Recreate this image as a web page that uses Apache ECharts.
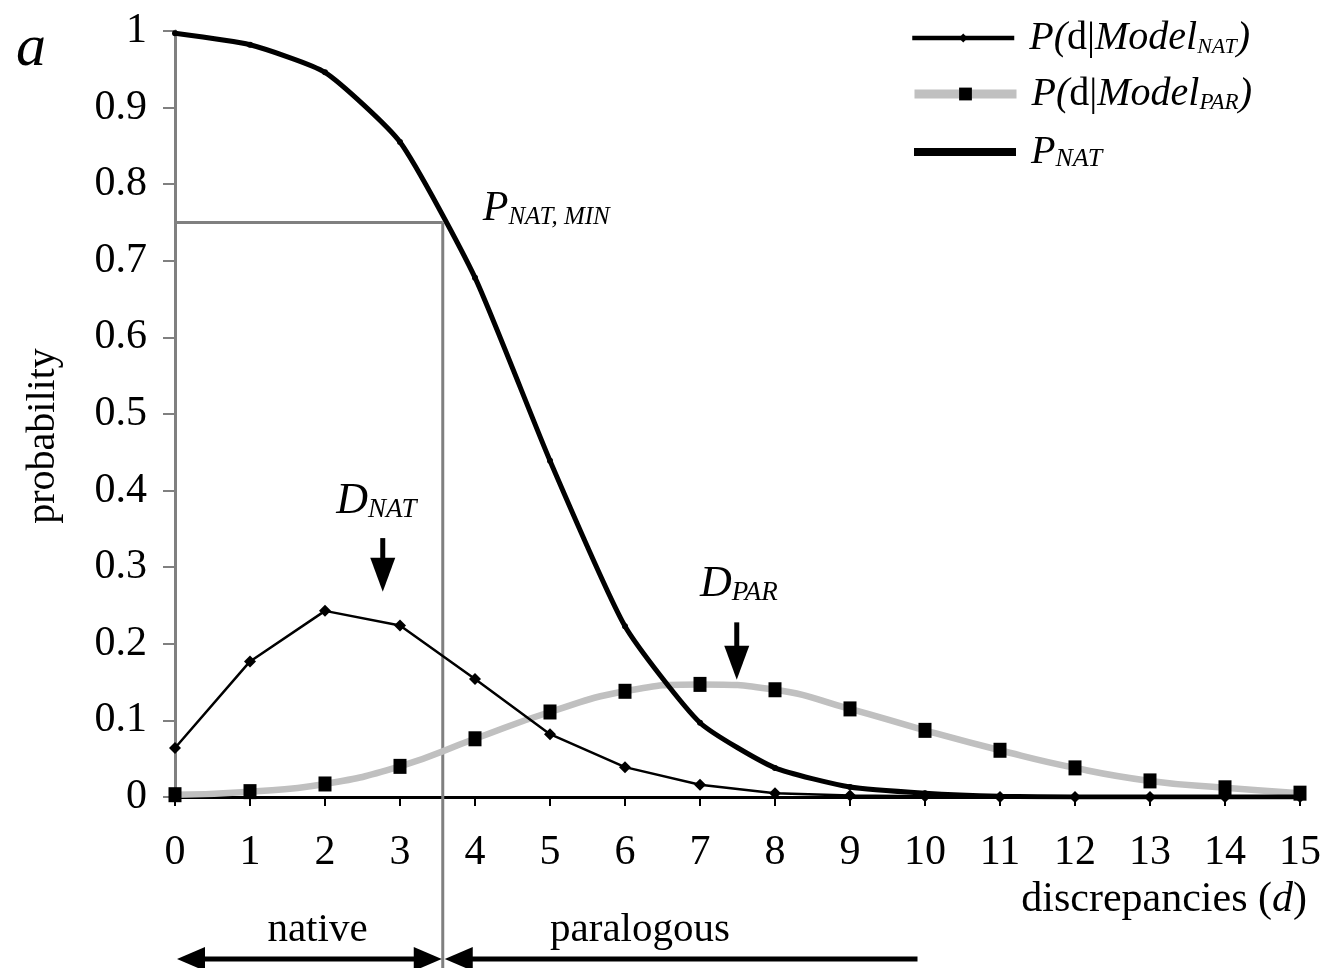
<!DOCTYPE html>
<html><head><meta charset="utf-8">
<script src="https://cdn.jsdelivr.net/npm/echarts@6/dist/echarts.min.js"></script>
<style>html,body{margin:0;padding:0;background:#fff}#c{width:1324px;height:968px}</style>
</head><body><div id="c"></div>
<script>
// ---- data ----
const discrepancies = [0,1,2,3,4,5,6,7,8,9,10,11,12,13,14,15];
const pModelNat = [0.064,0.177,0.243,0.224,0.154,0.082,0.039,0.016,0.005,0.002,0.001,0,0,0,0,0];
const pModelPar = [0.003,0.007,0.017,0.040,0.076,0.111,0.138,0.147,0.140,0.115,0.087,0.061,0.038,0.021,0.012,0.005];
const pNat      = [0.997,0.982,0.946,0.855,0.678,0.439,0.223,0.097,0.038,0.013,0.005,0.001,0,0,0,0];
const threshold = 3.57;   // d at which P_NAT = P_NAT,MIN
const pNatMin = 0.75;
const dNatMark = 2.77;
const dParMark = 7.49;

const SERIF = '"Liberation Serif","DejaVu Serif",serif';
const chart = echarts.init(document.getElementById('c'));

function rich(Fm, Fs, drop, padLeft) {
  const lh = 2 * (0.18 * Fm + 0.32 * Fs - drop);
  return {
    m: {fontFamily: SERIF, fontStyle: 'italic', fontSize: Fm, lineHeight: Fm, color: '#000', padding: [0, 0, 0, padLeft || 0]},
    i: {fontFamily: SERIF, fontStyle: 'italic', fontSize: Fm, lineHeight: Fm, color: '#000'},
    r: {fontFamily: SERIF, fontSize: Fm, lineHeight: Fm, color: '#000'},
    s: {fontFamily: SERIF, fontStyle: 'italic', fontSize: Fs, lineHeight: lh, verticalAlign: 'bottom', color: '#000'}
  };
}

const pairs = arr => discrepancies.map((d, i) => [d, arr[i]]);

const legendBase = {left: 910, padding: 0, itemWidth: 102, selectedMode: false, orient: 'horizontal'};

chart.setOption({
  animation: false,
  backgroundColor: '#fff',
  grid: {left: 175, right: 24, top: 31, bottom: 171, outerBoundsMode: 'none'},
  xAxis: {
    type: 'value', min: 0, max: 15, interval: 1,
    axisLine: {lineStyle: {color: '#000', width: 3}},
    axisTick: {length: 9, lineStyle: {color: '#000', width: 2}},
    axisLabel: {fontFamily: SERIF, fontSize: 42, color: '#000', margin: 35},
    splitLine: {show: false}
  },
  yAxis: {
    type: 'value', min: 0, max: 1, interval: 0.1,
    axisLine: {show: true, lineStyle: {color: '#808080', width: 3}},
    axisTick: {show: true, length: 12, lineStyle: {color: '#808080', width: 2}},
    axisLabel: {fontFamily: SERIF, fontSize: 42, color: '#000', margin: 28},
    splitLine: {show: false},
    name: 'probability', nameLocation: 'middle', nameGap: 112,
    nameTextStyle: {fontFamily: SERIF, fontSize: 40, color: '#000', padding: [0, 44, 0, 0]}
  },
  legend: [
    Object.assign({}, legendBase, {
      top: 18, itemHeight: 11, data: ['P(d|Model NAT)'],
      lineStyle: {width: 4.5},
      formatter: () => '{m|P(}{r|d|}{i|Model}{s|NAT}{i|)}',
      textStyle: {rich: rich(40, 22, 4, 10)}
    }),
    Object.assign({}, legendBase, {
      top: 74, itemHeight: 16, data: ['P(d|Model PAR)'],
      lineStyle: {width: 9},
      formatter: () => '{m|P(}{r|d|}{i|Model}{s|PAR}{i|)}',
      textStyle: {rich: rich(40, 23, 4, 10)}
    }),
    Object.assign({}, legendBase, {
      top: 132, itemHeight: 6, data: ['P NAT'],
      lineStyle: {width: 8},
      formatter: () => '{m|P}{s|NAT}',
      textStyle: {rich: rich(40, 26, 3, 10)}
    })
  ],
  series: [
    {
      name: 'P(d|Model PAR)', type: 'line', data: pairs(pModelPar), smooth: 0.5,
      symbol: 'rect', symbolSize: [13, 15], silent: true, z: 2,
      itemStyle: {color: '#000'}, lineStyle: {color: '#c0c0c0', width: 6.5},
      emphasis: {disabled: true}
    },
    {
      name: 'P NAT', type: 'line', data: pairs(pNat), smooth: 0.18,
      symbol: 'circle', symbolSize: 6, silent: true, z: 3,
      itemStyle: {color: '#000'}, lineStyle: {color: '#000', width: 5},
      emphasis: {disabled: true}
    },
    {
      name: 'P(d|Model NAT)', type: 'line', data: pairs(pModelNat),
      symbol: 'diamond', symbolSize: 12, silent: true, z: 4,
      itemStyle: {color: '#000'}, lineStyle: {color: '#000', width: 2.5},
      emphasis: {disabled: true}
    }
  ]
});

// ---- annotations positioned through the chart's own axes ----
const px = (x, y) => chart.convertToPixel({xAxisIndex: 0, yAxisIndex: 0}, [x, y]);
const [tx, ty] = px(threshold, pNatMin);
const [x0, y0] = px(0, 0);
const [xEnd] = px(9.9, 0);

function richText(str, left, baseline, Fm, Fs, drop) {
  return {
    type: 'text', x: left, y: baseline - 0.82 * Fm, z: 10, silent: true,
    style: {text: str, rich: rich(Fm, Fs, drop), verticalAlign: 'top', align: 'left'}
  };
}
function downArrow(xv, yTopV, yTipV) {
  const [ax, ayTop] = px(xv, yTopV);
  const [, ayTip] = px(xv, yTipV);
  const headLen = 34, halfW = 12.5;
  return [
    {type: 'line', z: 10, silent: true, shape: {x1: ax, y1: ayTop, x2: ax, y2: ayTip - headLen + 4}, style: {stroke: '#000', lineWidth: 5}},
    {type: 'polygon', z: 10, silent: true, shape: {points: [[ax - halfW, ayTip - headLen], [ax + halfW, ayTip - headLen], [ax, ayTip]]}, style: {fill: '#000'}}
  ];
}
function head(tipX, y, dir) { // dir -1 points left, +1 points right
  const L = 28, h = 12;
  return {type: 'polygon', z: 10, silent: true,
    shape: {points: [[tipX, y], [tipX - dir * L, y - h], [tipX - dir * L, y + h]]}, style: {fill: '#000'}};
}

const arrowY = 959;
const [nativeX] = px(1.9, 0);
const [paraX] = px(6.2, 0);
const [dNatX] = px(dNatMark - 0.62, 0);
const [dParX] = px(dParMark - 0.49, 0);
const [, dNatBase] = px(0, 0.368);
const [, dParBase] = px(0, 0.259);

chart.setOption({
  graphic: [
    // threshold guide lines
    {type: 'line', z: 1, silent: true, shape: {x1: x0, y1: ty, x2: tx, y2: ty}, style: {stroke: '#808080', lineWidth: 3}},
    {type: 'line', z: 1, silent: true, shape: {x1: tx, y1: ty, x2: tx, y2: 968}, style: {stroke: '#808080', lineWidth: 3}},
    // panel letter
    {type: 'text', x: 16, y: 68 - 0.82 * 60, z: 10, silent: true,
      style: {text: 'a', fontFamily: SERIF, fontStyle: 'italic', fontSize: 60, lineHeight: 60, fill: '#000', verticalAlign: 'top'}},
    // labels
    richText('{m|P}{s|NAT, MIN}', tx + 40, ty, 42, 25, 5),
    richText('{m|D}{s|NAT}', dNatX, dNatBase, 44, 27, 0),
    richText('{m|D}{s|PAR}', dParX, dParBase, 44, 27, 0),
    ...downArrow(dNatMark, 0.338, 0.268),
    ...downArrow(dParMark, 0.228, 0.153),
    // x axis name
    {type: 'text', x: 1307, y: 913 - 0.82 * 42, z: 10, silent: true,
      style: {text: '{r|discrepancies (}{i|d}{r|)}', rich: rich(42, 20, 0), align: 'right', verticalAlign: 'top'}},
    // native / paralogous brackets
    {type: 'text', x: nativeX, y: 943 - 0.82 * 41, z: 10, silent: true,
      style: {text: 'native', fontFamily: SERIF, fontSize: 41, lineHeight: 41, fill: '#000', align: 'center', verticalAlign: 'top'}},
    {type: 'text', x: paraX, y: 943 - 0.82 * 41, z: 10, silent: true,
      style: {text: 'paralogous', fontFamily: SERIF, fontSize: 41, lineHeight: 41, fill: '#000', align: 'center', verticalAlign: 'top'}},
    {type: 'line', z: 10, silent: true, shape: {x1: x0 + 20, y1: arrowY, x2: tx - 20, y2: arrowY}, style: {stroke: '#000', lineWidth: 5}},
    head(x0 + 2, arrowY, -1),
    head(tx - 1, arrowY, 1),
    {type: 'line', z: 10, silent: true, shape: {x1: tx + 20, y1: arrowY, x2: xEnd, y2: arrowY}, style: {stroke: '#000', lineWidth: 5}},
    head(tx + 2, arrowY, -1)
  ]
});
</script>
</body></html>
